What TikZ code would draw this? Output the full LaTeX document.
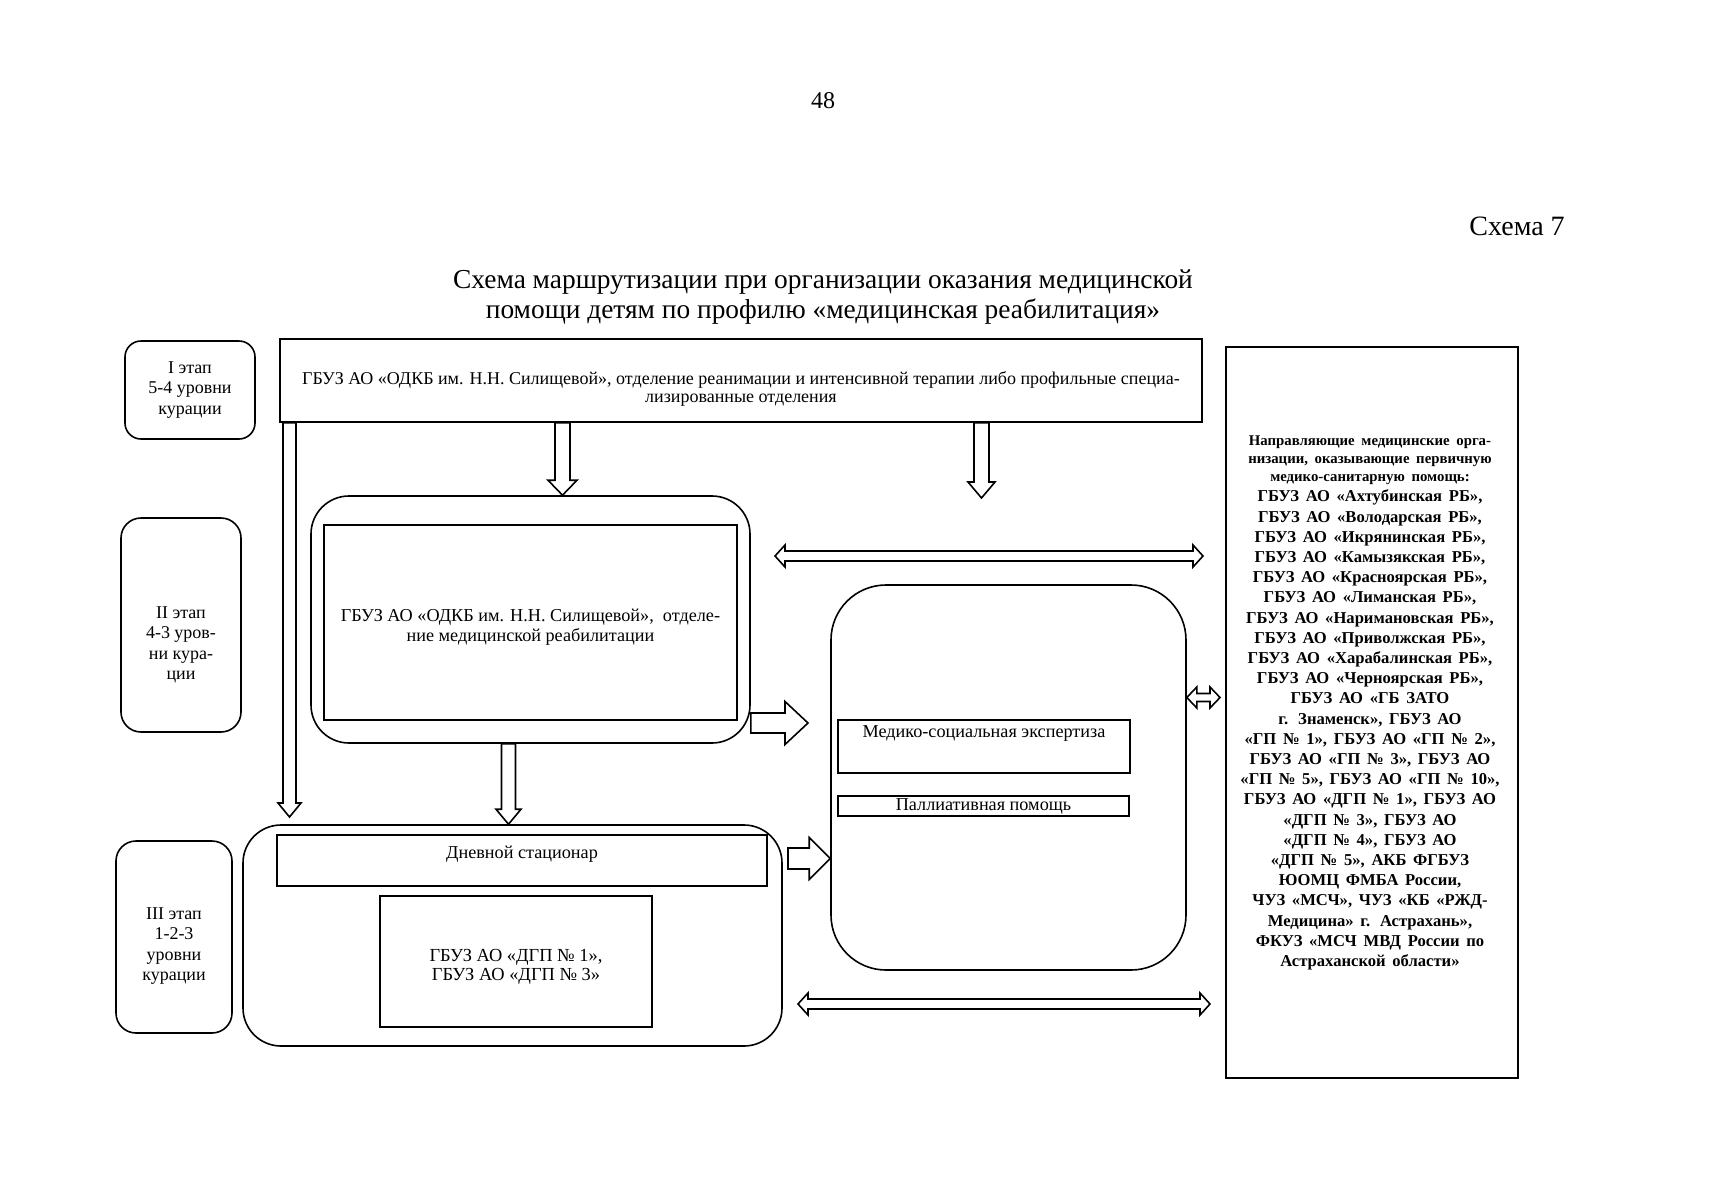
\documentclass[tikz,border=0pt]{standalone}
\usepackage{fontspec}
\setmainfont{Liberation Serif}
\usetikzlibrary{calc}
\tikzset{
  box/.style={draw, line width=0.8pt, rectangle, inner sep=0pt, align=center},
  rbox/.style={box, rounded corners=#1},
  barrow/.style={draw, line width=0.8pt, fill=white, line join=miter},
  txt/.style={inner sep=0pt, align=center},
  stagefont/.style={font=\fontsize{9}{10.2}\selectfont},
  boxfont/.style={font=\fontsize{9.1}{9.8}\selectfont}
}
\newcommand{\mkdown}[5]{%
  \draw[barrow] let \p1=(#1), \p2=(#2) in
    (\x1-#3,\y1) -- (\x1-#3,\y2+#5) -- (\x1-#4,\y2+#5) -- (\x1,\y2)
    -- (\x1+#4,\y2+#5) -- (\x1+#3,\y2+#5) -- (\x1+#3,\y1) -- cycle;}
\newcommand{\mkright}[5]{%
  \draw[barrow] let \p1=(#1), \p2=(#2) in
    (\x1,\y1+#3) -- (\x2-#5,\y1+#3) -- (\x2-#5,\y1+#4) -- (\x2,\y1)
    -- (\x2-#5,\y1-#4) -- (\x2-#5,\y1-#3) -- (\x1,\y1-#3) -- cycle;}
\newcommand{\mkdbl}[5]{%
  \draw[barrow] let \p1=(#1), \p2=(#2) in
    (\x1,\y1) -- (\x1+#5,\y1+#4) -- (\x1+#5,\y1+#3) -- (\x2-#5,\y1+#3)
    -- (\x2-#5,\y1+#4) -- (\x2,\y1) -- (\x2-#5,\y1-#4) -- (\x2-#5,\y1-#3)
    -- (\x1+#5,\y1-#3) -- (\x1+#5,\y1-#4) -- cycle;}
\begin{document}
\begin{tikzpicture}[x=0.5pt,y=-0.5pt]
\useasboundingbox[fill=white] (0,0) rectangle (1709,1200);

% headings
\node[txt,font=\fontsize{12}{14}\selectfont] (pnum) at (823,101) {48};
\node[txt,font=\fontsize{14}{15}\selectfont] (schema) at (1517,226) {Схема 7};
\node[txt,font=\fontsize{13.7}{15}\selectfont] (title) at (823,297)
  {Схема маршрутизации при организации оказания медицинской\\помощи детям по профилю «медицинская реабилитация»};

% stage boxes
\node[rbox=8pt, minimum width=65pt, minimum height=49pt, stagefont] (st1) at (190,390)
  {I этап\\5-4 уровни\\курации};
\node[rbox=10pt, minimum width=60pt, minimum height=107pt] (st2) at (181,625) {};
\node[txt, stagefont] (st2t) at (181,645) {II этап\\4-3 уров-\\ни кура-\\ции};
\node[rbox=10pt, minimum width=58pt, minimum height=96pt] (st3) at (174,937) {};
\node[txt, stagefont] (st3t) at (174,946) {III этап\\1-2-3\\уровни\\курации};

% top box
\node[box, minimum width=461pt, minimum height=41.5pt] (top) at (741,380.5) {};
\node[txt, font=\fontsize{9}{9}\selectfont] (topt) at (741,389)
  {ГБУЗ АО «ОДКБ им. Н.Н. Силищевой», отделение реанимации и интенсивной терапии либо профильные специа-\\лизированные отделения};

% right column
\node[box, minimum width=146pt, minimum height=365.5pt] (rcol) at (1372,712.5) {};
\node[txt, text width=146pt, font=\bfseries] (rcolt) at (1370,703)
  {\fontsize{7.4}{9}\selectfont Направляющие медицинские орга-\\низации, оказывающие первичную\\медико-санитарную помощь:\par
   \fontsize{8.3}{10.1}\selectfont
   ГБУЗ АО «Ахтубинская РБ»,\\
   ГБУЗ АО «Володарская РБ»,\\
   ГБУЗ АО «Икрянинская РБ»,\\
   ГБУЗ АО «Камызякская РБ»,\\
   ГБУЗ АО «Красноярская РБ»,\\
   ГБУЗ АО «Лиманская РБ»,\\
   ГБУЗ АО «Наримановская РБ»,\\
   ГБУЗ АО «Приволжская РБ»,\\
   ГБУЗ АО «Харабалинская РБ»,\\
   ГБУЗ АО «Черноярская РБ»,\\
   ГБУЗ АО «ГБ ЗАТО\\
   г. Знаменск», ГБУЗ АО\\
   «ГП № 1», ГБУЗ АО «ГП № 2»,\\
   ГБУЗ АО «ГП № 3», ГБУЗ АО\\
   «ГП № 5», ГБУЗ АО «ГП № 10»,\\
   ГБУЗ АО «ДГП № 1», ГБУЗ АО\\
   «ДГП № 3», ГБУЗ АО\\
   «ДГП № 4», ГБУЗ АО\\
   «ДГП № 5», АКБ ФГБУЗ\\
   ЮОМЦ ФМБА России,\\
   ЧУЗ «МСЧ», ЧУЗ «КБ «РЖД-\\
   Медицина» г. Астрахань»,\\
   ФКУЗ «МСЧ МВД России по\\
   Астраханской области»\par};

% stage II
\node[rbox=19pt, minimum width=219.5pt, minimum height=123.5pt] (IIo) at (530.5,619.5) {};
\node[box, minimum width=206.5pt, minimum height=97.5pt, boxfont] (IIi) at (530.5,622.5) {};
\node[txt, boxfont] (IIit) at (530.5,627)
  {ГБУЗ АО «ОДКБ им. Н.Н. Силищевой»,\ \ отделе-\\ние медицинской реабилитации};

% middle right box
\node[rbox=27.5pt, minimum width=177.5pt, minimum height=192.5pt] (mid) at (1008.5,777.5) {};
\node[box, minimum width=146pt, minimum height=26.5pt, text height=8.5pt, text depth=18pt, boxfont] (mse) at (984,746.5)
  {Медико-социальная экспертиза};
\node[box, minimum width=145.5pt, minimum height=10pt, boxfont] (pall) at (983.5,806)
  {Паллиативная помощь};

% stage III
\node[rbox=19pt, minimum width=269.5pt, minimum height=110.5pt] (IIIo) at (512.5,935.5) {};
\node[box, minimum width=245pt, minimum height=25.5pt, text height=11.5pt, text depth=14pt, boxfont] (dnev) at (522,860.5)
  {Дневной стационар};
\node[box, minimum width=136pt, minimum height=65.5pt] (dgp) at (516,961.5) {};
\node[txt, font=\fontsize{9.2}{9.8}\selectfont] (dgpt) at (516,967)
  {ГБУЗ АО «ДГП № 1»,\\ГБУЗ АО «ДГП № 3»};

% arrows
\coordinate (xA) at (289.5,0);
\coordinate (aAe) at (289.5,817);
\mkdown{xA |- top.south}{aAe}{3.25pt}{5.75pt}{7pt}

\coordinate (xB) at (562.5,0);
\mkdown{xB |- top.south}{xB |- IIo.north}{3.75pt}{7.25pt}{7.5pt}

\coordinate (xC) at (981.5,0);
\coordinate (cCe) at (981.5,498);
\mkdown{xC |- top.south}{cCe}{3.75pt}{6.75pt}{8pt}

\coordinate (xD) at (508.5,0);
\mkdown{xD |- IIo.south}{xD |- IIIo.north}{3.5pt}{6.25pt}{7.5pt}

\coordinate (yE) at (0,723);
\coordinate (eEe) at (808,723);
\mkright{IIo.east |- yE}{eEe}{5pt}{10.75pt}{11.5pt}

\coordinate (yF) at (0,858.5);
\coordinate (fFs) at (788,858.5);
\mkright{fFs}{mid.west |- yF}{5.25pt}{10.5pt}{10.5pt}

\coordinate (gGs) at (775,556);
\coordinate (gGe) at (1203,556);
\mkdbl{gGs}{gGe}{2.5pt}{5.5pt}{5pt}

\coordinate (hHs) at (798,1004);
\coordinate (hHe) at (1210,1004);
\mkdbl{hHs}{hHe}{2.5pt}{5.5pt}{5pt}

\coordinate (yI) at (0,697.5);
\coordinate (iIe) at (1220,697.5);
\mkdbl{mid.east |- yI}{iIe}{2pt}{5.25pt}{5pt}
\end{tikzpicture}
\end{document}
